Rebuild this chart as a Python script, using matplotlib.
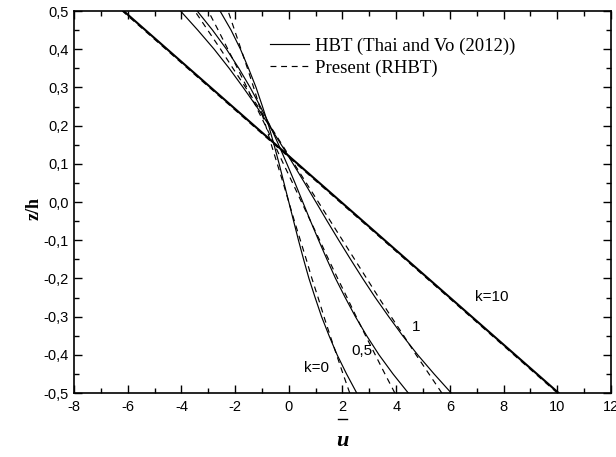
import matplotlib
matplotlib.use("Agg")
import matplotlib.pyplot as plt
from matplotlib.ticker import FuncFormatter, MultipleLocator

# z/h positions through the thickness
Z = [-0.5, -0.45, -0.4, -0.35, -0.3, -0.25, -0.2, -0.15, -0.1, -0.05, 0.0,
     0.05, 0.1, 0.15, 0.2, 0.25, 0.3, 0.35, 0.4, 0.45, 0.5]
Z_ENDS = [-0.5, 0.5]

# HBT (Thai and Vo 2012), axial displacement u-bar
HBT_K0 = [2.53, 2.15, 1.80, 1.50, 1.22, 0.98, 0.75, 0.55, 0.36, 0.18, 0.0,
          -0.18, -0.36, -0.55, -0.75, -0.98, -1.22, -1.50, -1.80, -2.15, -2.56]
HBT_K05 = [4.45, 3.88, 3.36, 2.90, 2.48, 2.10, 1.74, 1.42, 1.11, 0.81, 0.52,
           0.23, -0.07, -0.38, -0.70, -1.06, -1.44, -1.86, -2.32, -2.84, -3.41]
HBT_K1 = [6.05, 5.41, 4.80, 4.24, 3.72, 3.22, 2.75, 2.30, 1.86, 1.43, 1.01,
          0.59, 0.16, -0.28, -0.73, -1.20, -1.70, -2.22, -2.78, -3.39, -4.03]
HBT_K10 = [10.05, -6.15]

# Present (RHBT)
RHBT_K0 = [2.27, 2.02, 1.78, 1.54, 1.31, 1.09, 0.86, 0.65, 0.43, 0.21, 0.0,
           -0.21, -0.43, -0.65, -0.86, -1.09, -1.31, -1.54, -1.78, -2.02, -2.26]
RHBT_K05 = [3.95, 3.58, 3.22, 2.86, 2.51, 2.17, 1.82, 1.48, 1.15, 0.81, 0.475,
            0.14, -0.20, -0.53, -0.87, -1.22, -1.56, -1.91, -2.27, -2.63, -3.0]
RHBT_K1 = [5.70, 5.22, 4.74, 4.28, 3.81, 3.35, 2.90, 2.45, 2.00, 1.55, 1.10,
           0.65, 0.20, -0.25, -0.70, -1.15, -1.61, -2.08, -2.54, -3.02, -3.50]
RHBT_K10 = [10.0, -6.2]

# curve labels: (text, u, z)
CURVE_LABELS = [("k=10", 7.57, -0.249), ("1", 4.74, -0.327),
                ("0,5", 2.73, -0.39), ("k=0", 1.05, -0.435)]

SANS = "Liberation Sans"
SERIF = "Liberation Serif"


def comma(v, _pos, nd=1):
    if abs(v) < 1e-9:
        v = 0.0
    return f"{v:.{nd}f}".replace(".", ",")


def main() -> None:
    fig = plt.figure(figsize=(6.16, 4.57), dpi=100)
    ax = fig.add_axes([0.1201, 0.1400, 0.8718, 0.8359])

    solid = dict(color="black", lw=0.85, ls="-")
    dashed = dict(color="black", lw=0.85, ls=(0, (5, 4)))

    h1, = ax.plot(HBT_K0, Z, **solid)
    ax.plot(HBT_K05, Z, **solid)
    ax.plot(HBT_K1, Z, **solid)
    ax.plot(HBT_K10, Z_ENDS, color="black", lw=1.5)

    h2, = ax.plot(RHBT_K0, Z, **dashed)
    ax.plot(RHBT_K05, Z, **dashed)
    ax.plot(RHBT_K1, Z, **dashed)
    ax.plot(RHBT_K10, Z_ENDS, **dashed)

    for txt, u, z in CURVE_LABELS:
        ax.text(u, z, txt, ha="center", va="center", fontsize=11, family=SANS)

    ax.set_xlim(-8, 12)
    ax.set_ylim(-0.5, 0.5)
    ax.xaxis.set_major_locator(MultipleLocator(2))
    ax.xaxis.set_minor_locator(MultipleLocator(1))
    ax.yaxis.set_major_locator(MultipleLocator(0.1))
    ax.yaxis.set_minor_locator(MultipleLocator(0.05))
    ax.xaxis.set_major_formatter(FuncFormatter(lambda v, p: comma(v, p, 0)))
    ax.yaxis.set_major_formatter(FuncFormatter(comma))

    ax.tick_params(which="both", direction="in", top=True, right=True, width=1.0)
    ax.tick_params(which="major", length=6)
    ax.tick_params(which="minor", length=3.5)
    ax.tick_params(axis="x", pad=5.0, labelsize=10.5)
    ax.tick_params(axis="y", pad=4.0, labelsize=10.5)
    for lab in ax.get_xticklabels() + ax.get_yticklabels():
        lab.set_family(SANS)
    for sp in ax.spines.values():
        sp.set_linewidth(1.2)

    ax.set_ylabel("z/h", family=SERIF, fontweight="bold", fontsize=13)
    ax.yaxis.set_label_coords(-0.0575, 0.484)
    ax.set_xlabel("u", family=SERIF, fontweight="bold", fontstyle="italic", fontsize=16)
    ax.xaxis.label.set_va("baseline")
    ax.xaxis.set_label_coords(0.5, -0.139)
    # overbar of u-bar, drawn well above the letter as in the original
    ax.plot([0.4916, 0.5084], [-0.068, -0.068], transform=ax.transAxes,
            clip_on=False, color="black", lw=1.0)

    ax.legend([h1, h2], ["HBT (Thai and Vo (2012))", "Present (RHBT)"],
              loc="upper left", bbox_to_anchor=(0.365, 0.93), frameon=False,
              prop={"family": SERIF, "size": 13.5}, handlelength=2.1,
              handletextpad=0.3, labelspacing=0.22, borderpad=0, borderaxespad=0)

    fig.savefig("out.png", dpi=100)
    plt.close(fig)


if __name__ == "__main__":
    main()
